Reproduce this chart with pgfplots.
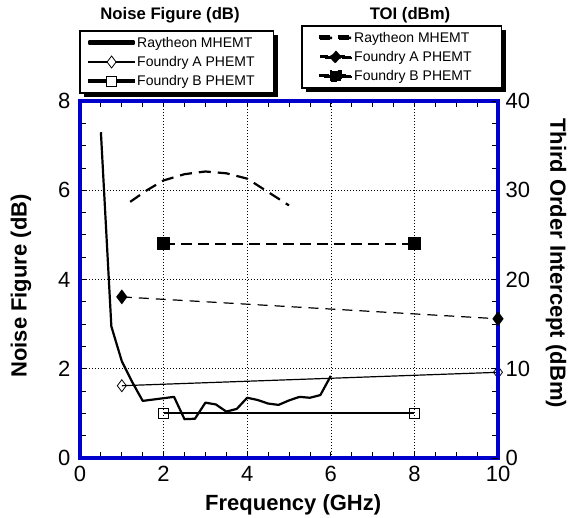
\documentclass[border=0pt]{standalone}
\usepackage{fontspec}
\setmainfont{Liberation Sans}
\usepackage{pgfplots}
\pgfplotsset{compat=1.18}

\definecolor{frameblue}{RGB}{0,0,205}

\begin{document}
\begin{tikzpicture}
\useasboundingbox (-80pt,-60pt) rectangle (489pt,458pt);
\pgfplotsset{
  common/.style={
    scale only axis, width=418pt, height=357pt,
    at={(0pt,0pt)}, anchor=south west,
    xmin=0, xmax=10, clip=false,
    tick align=inside,
    major tick length=6pt, minor tick length=6pt,
    every tick/.append style={black, line width=0.8pt},
    axis line style={frameblue, line width=4pt},
    tick label style={font=\fontsize{22}{24}\selectfont},
    /pgf/number format/assume math mode=true,
    legend cell align=left,
    legend style={font=\fontsize{14}{16}\selectfont, draw=none, fill=white,
      row sep=3.5pt, inner xsep=3pt, inner ysep=4pt, outer sep=0pt},
  }
}

% Noise figure (left axis)
\begin{axis}[common,
  ymin=0, ymax=8,
  xtick={0,2,...,10}, ytick={0,2,...,8},
  minor x tick num=3, minor y tick num=3,
  xtick pos=both, ytick pos=left,
  grid=major,
  major grid style={black, line width=0.6pt, dash pattern=on 1pt off 2pt},
  xticklabel style={yshift=-5pt},
  yticklabel style={xshift=-6pt},
  xlabel={Frequency (GHz)},
  ylabel={Noise Figure (dB)},
  label style={font=\fontsize{22}{24}\selectfont\bfseries},
  xlabel style={at={(axis description cs:0.51,-0.132)}, anchor=center},
  ylabel style={at={(axis description cs:-0.141,0.482)}, anchor=center},
  legend style={name=legA, at={(rel axis cs:0,1)}, anchor=south west, yshift=8pt},
]
\addplot[black, line width=2.2pt, line join=round,
  legend image code/.code={\path (0pt,0pt); \fill[black] (5pt,-1.3pt) rectangle (50pt,1.3pt);}]
  coordinates {
  (0.5,7.3) (0.75,2.95) (1.0,2.17) (1.25,1.7) (1.5,1.28) (2.0,1.34) (2.25,1.37)
  (2.5,0.87) (2.75,0.88) (3.0,1.24) (3.25,1.2) (3.5,1.04) (3.75,1.10) (4.0,1.35)
  (4.25,1.3) (4.5,1.22) (4.75,1.19) (5.0,1.29) (5.25,1.37) (5.5,1.35) (5.75,1.41) (6.0,1.84)};
\addlegendentry{Raytheon MHEMT\hspace*{14pt}}
\addplot[black, line width=1.2pt, mark=diamond, mark size=6pt,
  mark options={fill=white, line width=0.8pt},
  legend image code/.code={\path (0pt,0pt); \fill[black] (5pt,-0.8pt) rectangle (50pt,0.8pt);
    \draw[black, fill=white, line width=0.8pt] (27.5pt,6pt) -- (32pt,0pt) -- (27.5pt,-6pt) -- (23pt,0pt) -- cycle;}]
  coordinates {(1,1.62) (10,1.92)};
\addlegendentry{Foundry A PHEMT\hspace*{14pt}}
\addplot[black, line width=2pt, mark=square, mark size=5pt,
  mark options={fill=white, line width=0.8pt},
  legend image code/.code={\path (0pt,0pt); \fill[black] (5pt,-0.8pt) rectangle (50pt,0.8pt);
    \draw[black, fill=white, line width=0.8pt] (22.5pt,-5pt) rectangle (32.5pt,5pt);}]
  coordinates {(2,1.0) (8,1.0)};
\addlegendentry{Foundry B PHEMT\hspace*{14pt}}
\node[font=\fontsize{16.7}{18}\selectfont\bfseries] at (axis description cs:0.2153,1.241) {Noise Figure (dB)};
\node[font=\fontsize{16.7}{18}\selectfont\bfseries] at (axis description cs:0.7895,1.241) {TOI (dBm)};
\end{axis}

% TOI (right axis)
\begin{axis}[common,
  ymin=0, ymax=40,
  axis x line=none, axis y line*=right,
  ytick={0,10,...,40}, minor y tick num=3,
  yticklabel style={xshift=4pt},
  ylabel={Third Order Intercept (dBm)},
  every axis y label/.style={at={(axis description cs:1.139,0.546)}, anchor=center, rotate=-90,
    font=\fontsize{22}{24}\selectfont\bfseries},
  legend style={name=legB, at={(rel axis cs:0,1)}, anchor=south west, xshift=222pt, yshift=13pt,
    /tikz/every even column/.append style={column sep=3pt}},
]
\addplot[black, line width=2.2pt, dash pattern=on 12pt off 7pt,
  legend image code/.code={\path (0pt,0pt); \fill[black] (14pt,-1.3pt) rectangle (26pt,1.3pt) (33pt,-1.3pt) rectangle (45pt,1.3pt);}]
  coordinates {
  (1.2,28.7) (1.6,30.0) (2,31.1) (2.5,31.8) (3,32.1) (3.5,31.9) (4,31.3) (4.5,29.8) (5,28.3)};
\addlegendentry{Raytheon MHEMT\hspace*{25pt}}
\addplot[black, line width=1.2pt, dash pattern=on 10pt off 7pt, mark=diamond*, mark size=6.5pt,
  mark options={solid, fill=black},
  legend image code/.code={\path (0pt,0pt); \fill[black] (14pt,-1pt) rectangle (45pt,1pt);
    \fill[black] (29.5pt,6pt) -- (35pt,0pt) -- (29.5pt,-6pt) -- (24pt,0pt) -- cycle;}]
  coordinates {(1,18.05) (10,15.6)};
\addlegendentry{Foundry A PHEMT\hspace*{25pt}}
\addplot[black, line width=2pt, dash pattern=on 11pt off 6pt, mark=square*, mark size=5.3pt,
  mark options={solid, fill=black},
  legend image code/.code={\path (0pt,0pt); \fill[black] (14pt,-1pt) rectangle (45pt,1pt);
    \fill[black] (24.5pt,-5pt) rectangle (34.5pt,5pt);}]
  coordinates {(2,24) (8,24)};
\addlegendentry{Foundry B PHEMT\hspace*{25pt}}
\end{axis}

% frames and drop shadows of the two legend boxes
\foreach \leg in {legA,legB}{
  \draw[black, line width=1.2pt] (\leg.south west) rectangle (\leg.north east);
  \fill[black] ([xshift=0.6pt,yshift=-3.5pt]\leg.north east) rectangle ([xshift=4pt,yshift=-4pt]\leg.south east);
  \fill[black] ([xshift=3.5pt,yshift=-0.6pt]\leg.south west) rectangle ([xshift=4pt,yshift=-4pt]\leg.south east);
}
\end{tikzpicture}
\end{document}
